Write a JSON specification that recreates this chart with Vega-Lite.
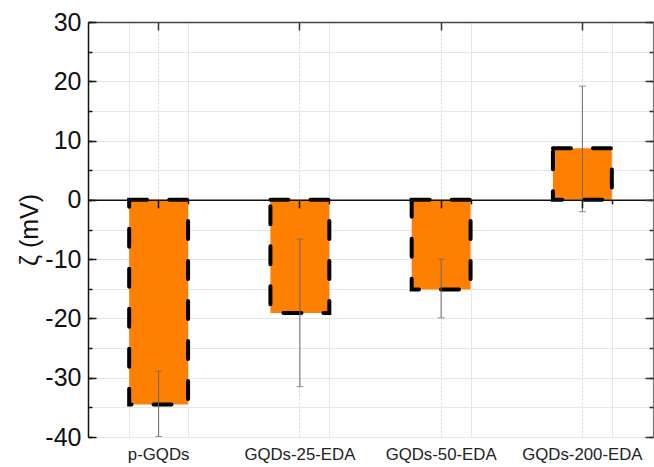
{
  "$schema": "https://vega.github.io/schema/vega-lite/v6.json",
  "width": 565,
  "height": 415,
  "autosize": "none",
  "padding": {"left": 88, "top": 22, "right": 1, "bottom": 30},
  "background": "white",
  "config": {
    "view": {"stroke": null},
    "font": "Liberation Sans",
    "axis": {"labelFont": "Liberation Sans", "titleFont": "Liberation Sans"}
  },
  "data": {
    "values": [
      {"sample": "p-GQDs", "zeta": -34.5, "lo": -39.9, "hi": -28.9},
      {"sample": "GQDs-25-EDA", "zeta": -19.1, "lo": -31.5, "hi": -6.6},
      {"sample": "GQDs-50-EDA", "zeta": -15.1, "lo": -19.9, "hi": -10.0},
      {"sample": "GQDs-200-EDA", "zeta": 8.7, "lo": -2.0, "hi": 19.2}
    ]
  },
  "resolve": {"axis": {"x": "independent", "y": "independent"}},
  "layer": [
    {
      "mark": {"type": "bar", "color": "#ff8000", "stroke": null},
      "encoding": {
        "x": {
          "field": "sample", "type": "nominal", "sort": null,
          "scale": {"paddingInner": 0.583, "paddingOuter": 0.2915},
          "axis": {
            "orient": "bottom", "title": null, "labelAngle": 0, "labelFontSize": 16.8,
            "labelColor": "#222", "labelPadding": 9, "ticks": false, "domain": false,
            "grid": true, "gridDash": [2, 2], "gridColor": "#d6d6d6", "gridWidth": 1, "zindex": 0
          }
        },
        "y": {
          "field": "zeta", "type": "quantitative",
          "scale": {"domain": [-40, 30], "nice": false, "zero": false},
          "axis": {
            "orient": "left", "values": [-40, -30, -20, -10, 0, 10, 20, 30],
            "labelExpr": "'' + datum.value",
            "title": "ζ (mV)", "titleFontSize": 25, "titleFontWeight": "normal", "titleColor": "#111",
            "titlePadding": 2,
            "labelFontSize": 25, "labelColor": "#111", "labelPadding": 15,
            "tickSize": -8, "tickWidth": 1.5, "tickColor": "#111",
            "domainColor": "#111", "domainWidth": 1.5, "grid": false, "zindex": 1
          }
        }
      }
    },
    {
      "mark": {"type": "bar", "fill": null, "fillOpacity": 0, "stroke": "#000", "strokeWidth": 4, "strokeDash": [18, 22], "strokeCap": "round"},
      "encoding": {
        "x": {
          "field": "sample", "type": "nominal", "sort": null,
          "axis": {
            "orient": "bottom", "tickBand": "extent", "title": null, "labels": false,
            "ticks": false, "domain": false, "grid": true, "gridColor": "#e6e6e6", "gridWidth": 1, "zindex": 0
          }
        },
        "y": {
          "field": "zeta", "type": "quantitative",
          "axis": {
            "orient": "left", "values": [-40, -35, -30, -25, -20, -15, -10, -5, 0, 5, 10, 15, 20, 25, 30],
            "title": null, "labels": false, "domain": false, "tickSize": -4, "tickWidth": 1.5, "tickColor": "#111",
            "grid": true, "gridColor": "#e6e6e6", "gridWidth": 1.2, "zindex": 0
          }
        }
      }
    },
    {
      "mark": {"type": "rule", "color": "#666", "strokeWidth": 1},
      "encoding": {
        "x": {
          "field": "sample", "type": "nominal", "sort": null,
          "axis": {
            "orient": "top", "title": null, "labels": false, "domain": true, "domainColor": "#444",
            "domainWidth": 1.5, "tickSize": -8, "tickWidth": 1.5, "tickColor": "#333", "grid": false, "zindex": 1
          }
        },
        "y": {
          "field": "lo", "type": "quantitative",
          "axis": {
            "orient": "right", "values": [-40, -30, -20, -10, 0, 10, 20, 30], "title": null, "labels": false,
            "domain": true, "domainColor": "#777", "domainWidth": 1.2, "tickSize": -8, "tickWidth": 1.5,
            "tickColor": "#333", "grid": false, "zindex": 1
          }
        },
        "y2": {"field": "hi"}
      }
    },
    {
      "mark": {"type": "tick", "color": "#666", "size": 7, "thickness": 1},
      "encoding": {
        "x": {
          "field": "sample", "type": "nominal", "sort": null,
          "axis": {
            "orient": "bottom", "offset": -237.14, "title": null, "labels": false,
            "domain": true, "domainColor": "#111", "domainWidth": 1.5,
            "tickSize": 8, "tickWidth": 1.5, "tickColor": "#111", "grid": false, "zindex": 1
          }
        },
        "y": {
          "field": "hi", "type": "quantitative",
          "axis": {
            "orient": "right", "values": [-40, -35, -30, -25, -20, -15, -10, -5, 0, 5, 10, 15, 20, 25, 30],
            "title": null, "labels": false, "domain": false, "tickSize": -4, "tickWidth": 1.5,
            "tickColor": "#333", "grid": false, "zindex": 1
          }
        }
      }
    },
    {
      "mark": {"type": "tick", "color": "#666", "size": 7, "thickness": 1},
      "encoding": {
        "x": {
          "field": "sample", "type": "nominal", "sort": null,
          "axis": {
            "orient": "bottom", "offset": -237.14, "tickBand": "extent", "title": null, "labels": false,
            "domain": false, "tickSize": 4, "tickWidth": 1.5, "tickColor": "#111", "grid": false, "zindex": 1
          }
        },
        "y": {"field": "lo", "type": "quantitative", "axis": null}
      }
    }
  ]
}
